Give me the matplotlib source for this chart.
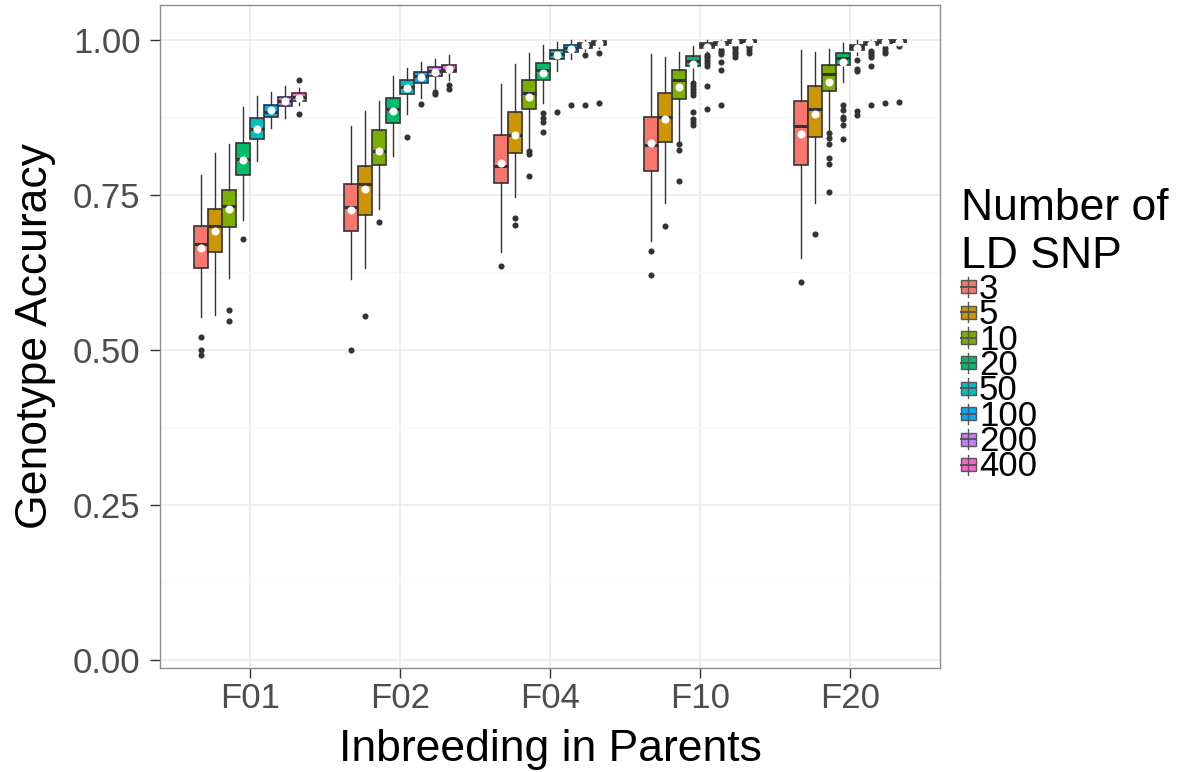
import matplotlib
matplotlib.use("Agg")
import matplotlib.pyplot as plt
from matplotlib.patches import Rectangle
from matplotlib.lines import Line2D

plt.rcParams['font.family'] = ['Liberation Sans', 'DejaVu Sans']

generations = ["F01", "F02", "F04", "F10", "F20"]
snp_counts = ["3", "5", "10", "20", "50", "100", "200", "400"]
colors = ["#F8766D", "#CD9600", "#7CAE00", "#00BE67",
          "#00BFC4", "#00A9FF", "#C77CFF", "#FF61CC"]

# one row per generation, one column per LD SNP count
whislo = [
    [.553, .556, .616, .709, .804, .857, .873, .894],
    [.615, .632, .727, .812, .880, .906, .921, .935],
    [.658, .747, .824, .898, .949, .969, .982, .987],
    [.675, .736, .835, .935, .980, .986, .992, .994],
    [.648, .736, .855, .932, .976, .986, .990, .994],
]
q1 = [
    [.632, .658, .698, .782, .840, .875, .893, .901],
    [.691, .717, .798, .865, .912, .930, .941, .948],
    [.769, .818, .889, .935, .969, .980, .986, .991],
    [.789, .835, .904, .957, .987, .992, .995, .996],
    [.798, .843, .917, .960, .984, .992, .995, .997],
]
med = [
    [.670, .699, .732, .807, .856, .884, .901, .908],
    [.731, .767, .820, .889, .924, .941, .949, .952],
    [.797, .847, .914, .951, .977, .986, .992, .995],
    [.831, .875, .935, .966, .991, .995, .997, .998],
    [.861, .889, .944, .971, .989, .995, .997, .998],
]
q3 = [
    [.700, .727, .757, .834, .873, .895, .908, .914],
    [.768, .797, .854, .906, .935, .948, .956, .959],
    [.846, .884, .935, .962, .984, .992, .995, .998],
    [.875, .914, .952, .974, .994, .997, .999, .999],
    [.902, .925, .960, .978, .992, .997, .999, .999],
]
whishi = [
    [.782, .817, .832, .891, .909, .916, .926, .922],
    [.861, .885, .902, .942, .955, .964, .969, .976],
    [.928, .961, .979, .992, .996, 1.0, 1.0, 1.0],
    [.977, .972, .981, .990, 1.0, 1.0, 1.0, 1.0],
    [.983, .980, .985, .994, 1.0, 1.0, 1.0, 1.0],
]
means = [
    [.665, .692, .727, .806, .856, .886, .901, .906],
    [.726, .759, .821, .885, .922, .940, .948, .953],
    [.802, .846, .908, .946, .975, .985, .991, .994],
    [.833, .872, .924, .961, .989, .993, .996, .997],
    [.848, .880, .932, .964, .986, .993, .996, .997],
]
outliers = [
    [[.520, .500, .491], [], [.564, .547], [.678], [], [], [], [.935, .881]],
    [[.500], [.555], [.706], [], [.843], [.897], [.916, .912], [.927, .921]],
    [[.635], [.712, .701], [.820, .815, .780], [.882, .874, .868, .851],
     [.883], [.895], [.976, .895], [.979, .898]],
    [[.659, .620], [.699], [.832, .823, .772],
     [.930, .925, .920, .916, .911, .883, .872, .867, .862],
     [.976, .972, .968, .962, .957, .925, .888],
     [.984, .980, .977, .964, .952, .894],
     [.989, .985, .981, .977, .972], [.991, .988, .984, .978]],
    [[.609], [.687], [.850, .841, .832, .809, .800, .754],
     [.894, .887, .875, .872, .863, .840],
     [.968, .953, .949, .885, .878],
     [.982, .979, .976, .972, .958, .894],
     [.986, .982, .978, .898], [.990, .899]],
]

W, H = 1178, 772
fig = plt.figure(figsize=(W / 100, H / 100), dpi=100)
ax = fig.add_axes([160 / W, 1 - 668 / H, 780 / W, 663 / H])

edge = "#333333"
dodge = 0.75
bw = dodge / len(snp_counts)

for i, col in enumerate(colors):
    stats = []
    for g in range(len(generations)):
        stats.append(dict(whislo=whislo[g][i], q1=q1[g][i], med=med[g][i],
                          q3=q3[g][i], whishi=whishi[g][i], mean=means[g][i],
                          fliers=outliers[g][i]))
    pos = [g - dodge / 2 + bw * (i + 0.5) for g in range(len(generations))]
    ax.bxp(stats, positions=pos, widths=bw, patch_artist=True,
           showmeans=True, showcaps=False, manage_ticks=False,
           boxprops=dict(facecolor=col, edgecolor=edge, linewidth=1.2),
           whiskerprops=dict(color=edge, linewidth=1.0),
           medianprops=dict(color=edge, linewidth=2.2),
           meanprops=dict(marker="o", markerfacecolor="white",
                          markeredgecolor="white", markersize=4.8),
           flierprops=dict(marker="o", markerfacecolor=edge,
                           markeredgecolor="none", markersize=4.4))

ax.set_xlim(-0.6, len(generations) - 0.4)
ax.set_ylim(-0.013, 1.056)
ax.set_xticks(range(len(generations)))
ax.set_xticklabels(generations)
ax.set_yticks([0, 0.25, 0.5, 0.75, 1.0])
ax.set_yticklabels(["0.00", "0.25", "0.50", "0.75", "1.00"])
ax.set_yticks([0.125, 0.375, 0.625, 0.875], minor=True)

ax.grid(True, which="major", color="#EBEBEB", linewidth=1.2, zorder=0)
ax.grid(True, which="minor", axis="y", color="#F7F7F7", linewidth=0.8, zorder=0)
ax.set_axisbelow(True)
for s in ax.spines.values():
    s.set_color("#8C8C8C")
    s.set_linewidth(1.0)

ax.tick_params(axis="both", which="major", length=7, width=1.0, color=edge,
               labelsize=25, labelcolor="#4D4D4D")
ax.tick_params(axis="y", pad=7)
ax.tick_params(axis="x", pad=3)
ax.tick_params(which="minor", length=0)

ax.set_xlabel("Inbreeding in Parents", fontsize=32, labelpad=10)
ax.set_ylabel("Genotype Accuracy", fontsize=32, labelpad=12)

# legend drawn by hand with boxplot-style keys
def fx(px):
    return px / W

def fy(py):
    return 1 - py / H

fig.text(fx(961), fy(220), "Number of", fontsize=32, va="baseline", ha="left")
fig.text(fx(961), fy(268), "LD SNP", fontsize=32, va="baseline", ha="left")
key_y0, key_step = 286.7, 25.4
for i, (lab, col) in enumerate(zip(snp_counts, colors)):
    cy = key_y0 + key_step * i
    fig.add_artist(Line2D([fx(968), fx(968)], [fy(cy - 10), fy(cy + 10)],
                          color="#555555", linewidth=1.0))
    fig.add_artist(Rectangle((fx(961), fy(cy + 6.5)), 15 / W, 13 / H,
                             facecolor=col, edgecolor="#555555", linewidth=1.0))
    fig.add_artist(Line2D([fx(961), fx(976)], [fy(cy), fy(cy)],
                          color="#555555", linewidth=1.4))
    fig.text(fx(979), fy(cy + 12), lab, fontsize=25, va="baseline", ha="left")

fig.savefig("out.png", dpi=100)
